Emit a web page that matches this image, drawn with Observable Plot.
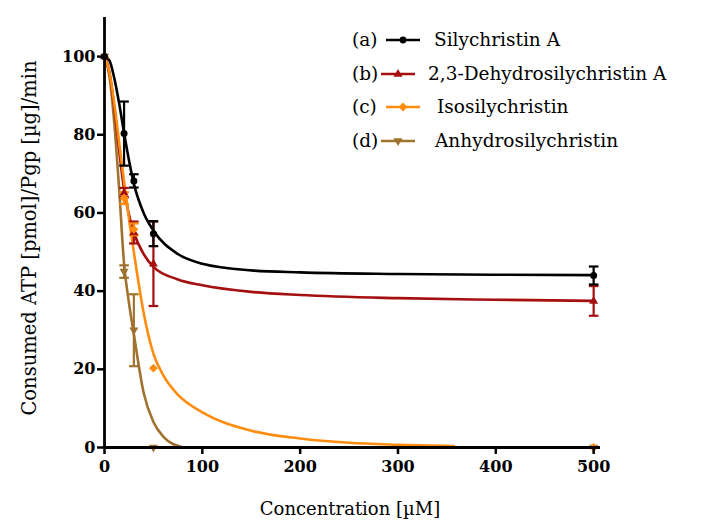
<!DOCTYPE html>
<html><head><meta charset="utf-8">
<script src="https://cdn.jsdelivr.net/npm/d3@7"></script>
<script src="https://cdn.jsdelivr.net/npm/@observablehq/plot@0.6"></script>
<style>body{margin:0;background:#fff} #chart{width:705px;height:532px}</style>
</head><body><div id="chart"></div>
<script>
// ---- data ----
const seriesNames = ["Silychristin A", "2,3-Dehydrosilychristin A", "Isosilychristin", "Anhydrosilychristin"];
const seriesTags = ["(a)", "(b)", "(c)", "(d)"];
const seriesColors = ["#000000", "#a50f0f", "#ff8c0f", "#a0722f"];
const conc = [0, 20, 30, 50, 500];
const silyA = [100, 80.3, 68.2, 54.7, 44.0];
const silyAErr = [0, 8.2, 1.7, 3.2, 2.3];
const dehydro = [100, 65.2, 55.0, 47.0, 37.5];
const dehydroErr = [0, 1.2, 2.8, 10.8, 3.8];
const iso = [100, 63.8, 55.8, 20.3, 0];
const isoErr = [0, 1.5, 1.5, 0, 0];
const anhydro = [100, 45.0, 30.0, 0, 0];
const anhydroErr = [0, 1.6, 9.2, 0, 0];
// fitted curves
const curveXA = [0, 5, 10, 15, 20, 25, 30, 40, 50, 75, 100, 150, 200, 300, 400, 500];
const curveA = [100, 99, 94.5, 88, 80.5, 73.5, 67.5, 60, 55.5, 49.5, 47, 45.3, 44.8, 44.4, 44.2, 44.1];
const curveXB = [0, 5, 10, 15, 20, 25, 30, 40, 50, 75, 100, 150, 200, 300, 400, 500];
const curveB = [100, 96, 87, 76, 66, 59.5, 55, 49.5, 46.2, 43, 41.5, 39.8, 39, 38.2, 37.8, 37.5];
const curveXC = [0, 5, 10, 15, 20, 25, 30, 40, 50, 60, 75, 100, 150, 200, 250, 300, 357];
const curveC = [100, 96, 88, 78, 68, 58.5, 50, 34.5, 24, 18.5, 13.5, 9, 4.3, 2.3, 1.2, 0.7, 0.35];
const curveXD = [0, 5, 10, 15, 20, 25, 30, 40, 50, 60, 70, 78];
const curveD = [100, 95, 83, 66, 47, 37, 29, 14, 6.5, 2.8, 0.9, 0.2];
const xTicks = [0, 100, 200, 300, 400, 500];
const yTicks = [0, 20, 40, 60, 80, 100];
const xTitle = "Concentration [µM]";
const yTitle = "Consumed ATP [pmol]/Pgp [µg]/min";

const values = [silyA, dehydro, iso, anhydro];
const errs = [silyAErr, dehydroErr, isoErr, anhydroErr];
const curveXs = [curveXA, curveXB, curveXC, curveXD];
const curveYs = [curveA, curveB, curveC, curveD];

const downTriangle = {draw(ctx, size) {
  const r = Math.sqrt(size / Math.PI) * 1.25;
  ctx.moveTo(-r * 0.9, -r * 0.55); ctx.lineTo(r * 0.9, -r * 0.55); ctx.lineTo(0, r); ctx.closePath();
}};
const upTriangle = {draw(ctx, size) {
  const r = Math.sqrt(size / Math.PI) * 1.25;
  ctx.moveTo(-r * 0.9, r * 0.55); ctx.lineTo(r * 0.9, r * 0.55); ctx.lineTo(0, -r); ctx.closePath();
}};
const capSymbol = {draw(ctx, size) {
  const w = Math.sqrt(size / Math.PI);
  ctx.moveTo(-w, 0); ctx.lineTo(w, 0);
}};
const symbols = ["circle", upTriangle, "diamond2", downTriangle];

const marks = [];
const curveOrder = [3, 1, 2, 0];
for (const i of curveOrder) {
  const pts = curveXs[i].map((x, j) => ({x, y: curveYs[i][j]}));
  marks.push(Plot.line(pts, {x: "x", y: "y", stroke: seriesColors[i], strokeWidth: 2.6, curve: "monotone-x"}));
}
for (const i of curveOrder) {
  const pts = conc.map((x, j) => ({x, y: values[i][j], e: errs[i][j]})).filter(d => d.e > 0);
  marks.push(Plot.ruleX(pts, {x: "x", y1: d => d.y - d.e, y2: d => d.y + d.e, stroke: seriesColors[i], strokeWidth: 2.2}));
  marks.push(Plot.dot(pts, {x: "x", y: d => d.y + d.e, symbol: capSymbol, r: 4.8, stroke: seriesColors[i], strokeWidth: 2.2, fill: "none"}));
  marks.push(Plot.dot(pts, {x: "x", y: d => d.y - d.e, symbol: capSymbol, r: 4.8, stroke: seriesColors[i], strokeWidth: 2.2, fill: "none"}));
}
for (const i of curveOrder) {
  const pts = conc.map((x, j) => ({x, y: values[i][j]}));
  marks.push(Plot.dot(pts, {x: "x", y: "y", symbol: symbols[i], r: i === 0 ? 3.5 : 4, fill: seriesColors[i], stroke: "none"}));
}

const chart = Plot.plot({
  width: 705, height: 532,
  marginLeft: 104, marginRight: 105, marginTop: 17, marginBottom: 85,
  style: {fontFamily: "DejaVu Serif", background: "#fff", color: "#000"},
  x: {domain: [0, 507]},
  y: {domain: [0, 110]},
  marks: [
    ...marks,
    Plot.ruleY([0], {stroke: "#000", strokeWidth: 2.8}),
    Plot.ruleX([0], {stroke: "#000", strokeWidth: 2.8}),
    Plot.axisX({ticks: xTicks, tickSize: 7, tickPadding: 6, strokeWidth: 2.5, fontSize: 16, fontWeight: "bold", label: null}),
    Plot.axisY({ticks: yTicks, tickSize: 7, tickPadding: 2, strokeWidth: 2.5, fontSize: 16, fontWeight: "bold", label: null})
  ]
});
document.getElementById("chart").appendChild(chart);

// axis titles and legend
const svg = d3.select(chart);
svg.append("text").attr("x", 350).attr("y", 515).attr("text-anchor", "middle")
  .attr("font-family", "DejaVu Serif").attr("font-size", 18).text(xTitle);
svg.append("text").attr("transform", "translate(36,238) rotate(-90)").attr("text-anchor", "middle")
  .attr("font-family", "DejaVu Serif").attr("font-size", 19.5).text(yTitle);

const rowY = [40, 74, 107, 141];
const lineX = [[386, 420], [381, 415], [386, 420], [381, 415]];
const labelX = [434, 428, 437, 435];
const legendSymbols = [d3.symbolCircle, upTriangle, d3.symbolDiamond2, downTriangle];
const lg = svg.append("g").attr("font-family", "DejaVu Serif").attr("font-size", 18.5).attr("text-anchor", "start");
seriesNames.forEach((name, i) => {
  const y = rowY[i];
  lg.append("text").attr("x", 352).attr("y", y).attr("dy", "0.35em").attr("text-anchor", "start").text(seriesTags[i]);
  lg.append("line").attr("x1", lineX[i][0]).attr("x2", lineX[i][1]).attr("y1", y).attr("y2", y)
    .attr("stroke", seriesColors[i]).attr("stroke-width", 2.6);
  lg.append("path").attr("transform", `translate(${(lineX[i][0] + lineX[i][1]) / 2},${y})`)
    .attr("d", d3.symbol(legendSymbols[i], i === 0 ? 36 : 50)()).attr("fill", seriesColors[i]);
  lg.append("text").attr("x", labelX[i]).attr("y", y).attr("dy", "0.35em").attr("text-anchor", "start").text(name);
});
</script>
</body></html>
